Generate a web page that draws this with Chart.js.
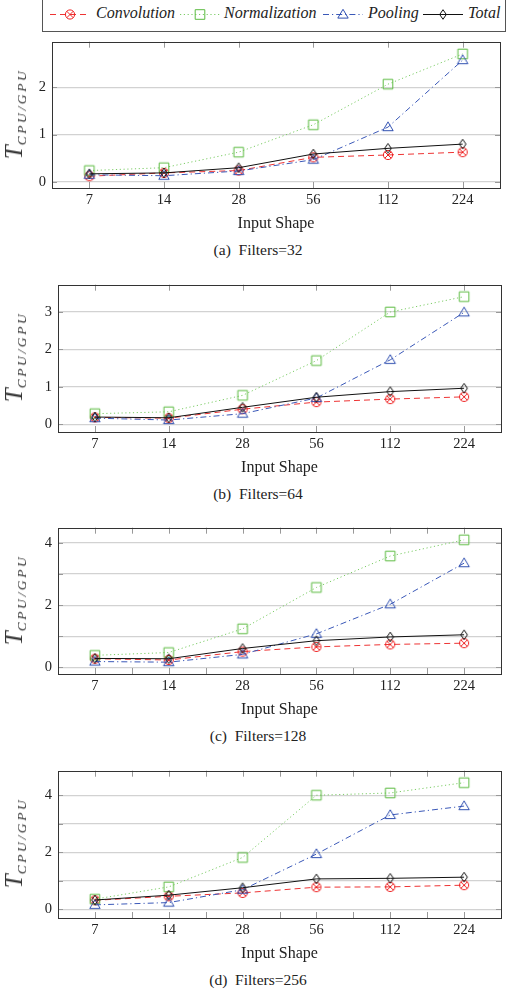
<!DOCTYPE html>
<html>
<head>
<meta charset="utf-8">
<script src="https://cdn.jsdelivr.net/npm/chart.js@4.4.1/dist/chart.umd.min.js"></script>
<style>
  body { margin: 0; width: 507px; height: 993px; background: #fff; position: relative; overflow: hidden;
         font-family: 'Liberation Serif', 'DejaVu Serif', serif; color: #222; }
  canvas { position: absolute; left: 0; }
  .legend { position: absolute; left: 42px; top: -2px; width: 462px; height: 32px; border: 1px solid #555; }
  .legend span { position: absolute; top: 5px; font-style: italic; font-size: 16px; line-height: 18px; white-space: nowrap; }
  .caption { position: absolute; left: 158px; width: 200px; text-align: center; font-size: 15.5px; line-height: 18px; white-space: pre; }
  .ytitle { position: absolute; left: 18px; transform: translate(-50%, -50%) rotate(-90deg); white-space: nowrap;
            font-style: italic; font-size: 25px; line-height: 26px; color: #333; }
  .ytitle sub { font-size: 13.5px; letter-spacing: 2.6px; vertical-align: -4px; }
</style>
</head>
<body>
<div class="legend" id="legend"></div>

<script>
const inputShapes = ['7', '14', '28', '56', '112', '224'];
const seriesNames = ['Convolution', 'Normalization', 'Pooling', 'Total'];
const captions = ['(a)  Filters=32', '(b)  Filters=64', '(c)  Filters=128', '(d)  Filters=256'];

const conv32 = [0.12, 0.19, 0.24, 0.52, 0.57, 0.63];
const norm32 = [0.24, 0.30, 0.63, 1.21, 2.07, 2.71];
const pool32 = [0.15, 0.13, 0.23, 0.47, 1.16, 2.58];
const total32 = [0.17, 0.19, 0.30, 0.59, 0.71, 0.80];

const conv64 = [0.18, 0.16, 0.40, 0.59, 0.67, 0.73];
const norm64 = [0.28, 0.33, 0.77, 1.70, 3.00, 3.41];
const pool64 = [0.16, 0.11, 0.28, 0.70, 1.72, 2.99];
const total64 = [0.19, 0.17, 0.45, 0.72, 0.87, 0.96];

const conv128 = [0.28, 0.24, 0.51, 0.66, 0.74, 0.78];
const norm128 = [0.39, 0.48, 1.24, 2.57, 3.58, 4.10];
const pool128 = [0.19, 0.17, 0.42, 1.08, 2.03, 3.35];
const total128 = [0.29, 0.28, 0.61, 0.86, 0.98, 1.05];

const conv256 = [0.32, 0.46, 0.58, 0.78, 0.79, 0.85];
const norm256 = [0.36, 0.79, 1.82, 4.00, 4.08, 4.44];
const pool256 = [0.16, 0.24, 0.69, 1.94, 3.31, 3.62];
const total256 = [0.33, 0.50, 0.76, 1.07, 1.09, 1.13];

// y axis ranges, grid values and their labels per panel
const yMins = [-0.13, -0.21, -0.21, -0.30];
const yMaxs = [2.97, 3.73, 4.49, 4.86];
const yTicks32 = [0, 1, 2];
const yTicks64 = [0, 1, 2, 3];
const yTicks128 = [0, 1, 2, 3, 4];
const yTicks256 = [0, 1, 2, 3, 4];
const yLabels32 = ['0', '1', '2'];
const yLabels64 = ['0', '1', '2', '3'];
const yLabels128 = ['0', '', '2', '', '4'];
const yLabels256 = ['0', '', '2', '', '4'];

const FONT = "'Liberation Serif', 'DejaVu Serif', serif";

const styles = [
  { color: '#ee2222', line: '#ee3333', dash: [6, 4], marker: 'otimes' },
  { color: '#5cbb40', line: '#7ccc66', dash: [1.2, 2.6], marker: 'square' },
  { color: '#2f4fb0', line: '#3a58b8', dash: [6, 3, 1.2, 3], marker: 'triangle' },
  { color: '#111111', line: '#111111', dash: [], marker: 'diamond' },
];

// panel placement: plot area top/bottom, plot left edge, right padding
const panels = [
  { plotTop: 39, plotBottom: 188, left: 52, rightPad: 7, minor: false,
    data: [conv32, norm32, pool32, total32], ticks: yTicks32, labels: yLabels32 },
  { plotTop: 282, plotBottom: 432, left: 58, rightPad: 4, minor: false,
    data: [conv64, norm64, pool64, total64], ticks: yTicks64, labels: yLabels64 },
  { plotTop: 525, plotBottom: 674, left: 58, rightPad: 2, minor: true,
    data: [conv128, norm128, pool128, total128], ticks: yTicks128, labels: yLabels128 },
  { plotTop: 768, plotBottom: 918, left: 58, rightPad: 2, minor: true,
    data: [conv256, norm256, pool256, total256], ticks: yTicks256, labels: yLabels256 },
];

function drawMarker(ctx, kind, cx, cy, color) {
  ctx.strokeStyle = color;
  ctx.lineWidth = 1;
  ctx.setLineDash([]);
  ctx.beginPath();
  if (kind === 'otimes') {
    const r = 4.6;
    ctx.arc(cx, cy, r, 0, Math.PI * 2);
    const d = r * 0.7071;
    ctx.moveTo(cx - d, cy - d); ctx.lineTo(cx + d, cy + d);
    ctx.moveTo(cx + d, cy - d); ctx.lineTo(cx - d, cy + d);
  } else if (kind === 'square') {
    ctx.rect(cx - 4.8, cy - 4.8, 9.6, 9.6);
  } else if (kind === 'triangle') {
    ctx.moveTo(cx, cy - 5.2);
    ctx.lineTo(cx + 5.2, cy + 3.6);
    ctx.lineTo(cx - 5.2, cy + 3.6);
    ctx.closePath();
  } else {
    ctx.moveTo(cx, cy - 4.8);
    ctx.lineTo(cx + 3.3, cy);
    ctx.lineTo(cx, cy + 4.8);
    ctx.lineTo(cx - 3.3, cy);
    ctx.closePath();
  }
  ctx.stroke();
}

function makeMarkerCanvas(kind, color) {
  const c = document.createElement('canvas');
  c.width = 14;
  c.height = 14;
  const ctx = c.getContext('2d');
  drawMarker(ctx, kind, 7, 7, color);
  return c;
}

const markerImages = styles.map((s) => makeMarkerCanvas(s.marker, s.color));

function buildLegend() {
  const legend = document.getElementById('legend');
  const sampleX = [7, 137, 280, 380];
  const textX = [53, 181, 325, 425];
  seriesNames.forEach((name, i) => {
    const c = document.createElement('canvas');
    c.width = 40;
    c.height = 14;
    c.style.left = sampleX[i] + 'px';
    c.style.top = '8px';
    const ctx = c.getContext('2d');
    ctx.strokeStyle = styles[i].line;
    ctx.lineWidth = 1;
    ctx.setLineDash(styles[i].dash);
    ctx.beginPath();
    ctx.moveTo(0, 7.5);
    ctx.lineTo(40, 7.5);
    ctx.stroke();
    drawMarker(ctx, styles[i].marker, 20, 7.5, styles[i].color);
    legend.appendChild(c);
    const span = document.createElement('span');
    span.textContent = name;
    span.style.left = textX[i] + 'px';
    legend.appendChild(span);
  });
}

const framePlugin = {
  id: 'frame',
  beforeDatasetsDraw(chart, args, opts) {
    const { ctx, chartArea: a } = chart;
    const xs = chart.scales.x;
    const ys = chart.scales.y;
    ctx.save();
    ctx.setLineDash([]);
    ctx.lineWidth = 1;
    ctx.strokeStyle = '#999';
    ctx.beginPath();
    const xTicks = [];
    for (let i = 0; i < inputShapes.length; i += 1) {
      xTicks.push(xs.getPixelForValue(i));
      if (opts.minor && i < inputShapes.length - 1) {
        xTicks.push((xs.getPixelForValue(i) + xs.getPixelForValue(i + 1)) / 2);
      }
    }
    xTicks.forEach((x) => {
      const px = Math.round(x) + 0.5;
      ctx.moveTo(px, a.bottom); ctx.lineTo(px, a.bottom - 6);
      ctx.moveTo(px, a.top); ctx.lineTo(px, a.top + 6);
    });
    ys.ticks.forEach((t) => {
      const py = Math.round(ys.getPixelForValue(t.value)) + 0.5;
      ctx.moveTo(a.left, py); ctx.lineTo(a.left + 5, py);
      ctx.moveTo(a.right, py); ctx.lineTo(a.right - 5, py);
    });
    ctx.stroke();
    ctx.strokeStyle = '#333';
    ctx.strokeRect(Math.round(a.left) + 0.5, Math.round(a.top) + 0.5,
      Math.round(a.right - a.left), Math.round(a.bottom - a.top));
    ctx.restore();
  },
};

function buildPanel(panel, idx) {
  const padTop = 12;
  const axisH = 45;
  const canvas = document.createElement('canvas');
  canvas.width = 507;
  canvas.height = padTop + (panel.plotBottom - panel.plotTop) + axisH;
  canvas.style.top = (panel.plotTop - padTop) + 'px';
  document.body.appendChild(canvas);

  const datasets = panel.data.map((values, i) => ({
    label: seriesNames[i],
    data: values,
    borderColor: styles[i].line,
    borderWidth: 1,
    borderDash: styles[i].dash,
    pointStyle: markerImages[i],
    pointRadius: 5,
    tension: 0,
    fill: false,
    order: seriesNames.length - i,
  }));

  new Chart(canvas.getContext('2d'), {
    type: 'line',
    data: { labels: inputShapes, datasets },
    plugins: [framePlugin],
    options: {
      responsive: false,
      animation: false,
      layout: { padding: { top: padTop, right: panel.rightPad, left: 0, bottom: 0 } },
      plugins: {
        legend: { display: false },
        tooltip: { enabled: false },
        frame: { minor: panel.minor },
      },
      scales: {
        x: {
          offset: true,
          grid: { display: false, drawTicks: false },
          border: { display: false },
          ticks: { color: '#222', font: { family: FONT, size: 14.5 }, padding: 3, maxRotation: 0 },
          title: {
            display: true,
            text: 'Input Shape',
            color: '#222',
            font: { family: FONT, size: 16 },
            padding: { top: 0, bottom: 0 },
          },
          afterFit: (s) => { s.height = axisH; },
        },
        y: {
          bounds: 'data',
          min: yMins[idx],
          max: yMaxs[idx],
          grid: { color: '#d2d2d2', lineWidth: 1.2, drawTicks: false },
          border: { display: false },
          afterBuildTicks: (s) => { s.ticks = panel.ticks.map((v) => ({ value: v })); },
          ticks: {
            padding: 6,
            color: '#222',
            font: { family: FONT, size: 14.5 },
            callback: (v, i) => panel.labels[i],
          },
          afterFit: (s) => { s.width = panel.left; },
        },
      },
    },
  });

  const title = document.createElement('div');
  title.className = 'ytitle';
  title.style.top = ((panel.plotTop + panel.plotBottom) / 2) + 'px';
  title.innerHTML = 'T<sub>CPU/GPU</sub>';
  document.body.appendChild(title);

  const cap = document.createElement('div');
  cap.className = 'caption';
  cap.style.top = (panel.plotBottom + 62 - 9) + 'px';
  cap.textContent = captions[idx];
  document.body.appendChild(cap);
}

buildLegend();
panels.forEach(buildPanel);
</script>
</body>
</html>
